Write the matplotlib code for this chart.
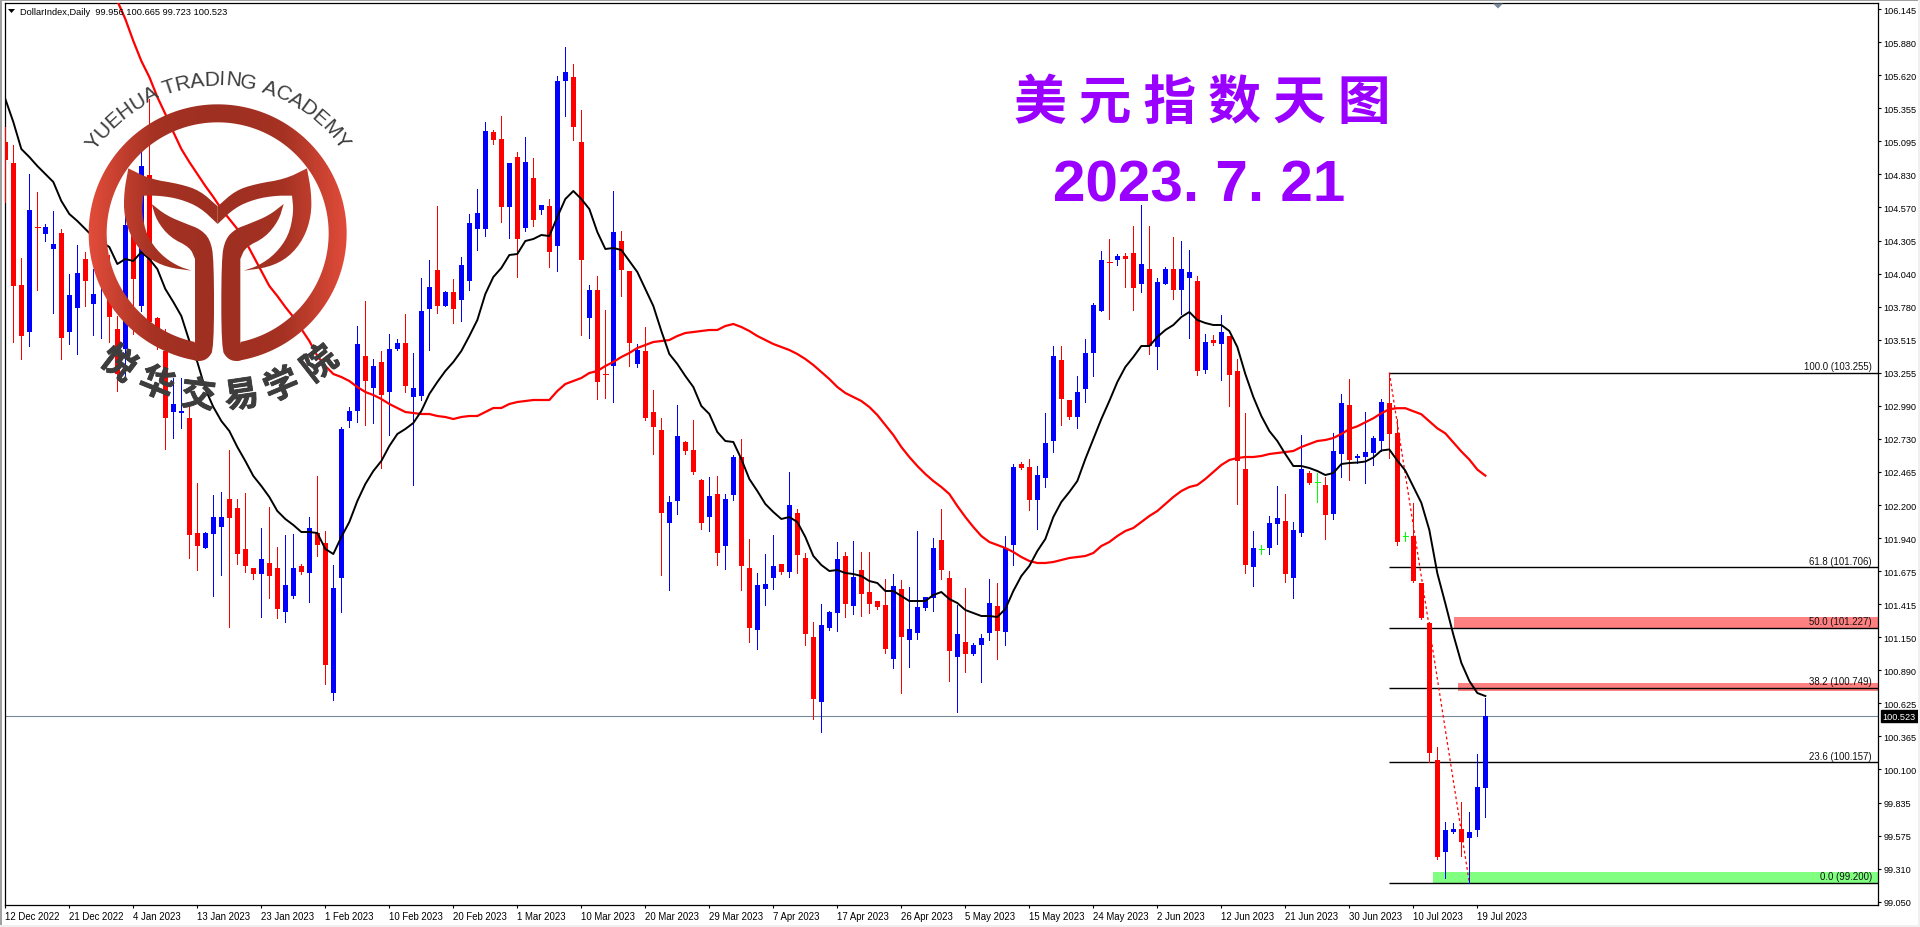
import numpy as np
import matplotlib
matplotlib.use("Agg")
import matplotlib.pyplot as plt
from matplotlib.patches import Polygon, Rectangle
import matplotlib.patheffects as pe

# ---------- data: daily candles, in index points ----------
kind = list("RRRBRBBRBB" "RBBRRBRBRR" "RBBRRBBBRR" "RRBRRBBRBR" "RBBBBRBRBB" "RBBBRBRBBB" "BRRBRBRBRB" "BRRBRRBRRB"
            "RRRBBRRRBR" "BBRRBBBRBR" "RRBBBRBRRR" "RBRBBBBRRB" "RBBBRBBRRB" "BBRRBBBBRB" "RRBRBBRBBR" "BRBRRRBGBB"
            "RBBRGRBBRB" "BBBRRGRRRR" "BBRBBB")

body_top = [105.100,104.932,103.956,104.556,104.420,104.420,104.284,104.372,103.876,104.052,104.164,103.884,104.204,103.844,103.604,104.436,104.348,104.908,104.836,103.692,
103.428,103.004,102.948,102.892,101.972,101.972,102.100,102.100,102.244,102.172,101.844,101.692,101.764,101.732,101.692,101.556,101.692,101.708,102.012,101.972,
101.892,101.532,102.804,102.948,103.484,103.388,103.308,103.340,103.444,103.492,103.492,103.132,103.748,103.940,104.076,103.900,103.900,104.116,104.452,104.532,
105.188,105.180,105.124,104.932,104.980,104.940,104.812,104.596,104.588,105.588,105.660,105.620,105.100,103.916,103.916,103.244,104.380,104.308,104.068,103.436,
103.428,102.940,102.796,102.220,102.748,102.700,102.636,102.396,102.268,102.284,102.244,102.580,102.580,101.692,101.556,101.564,101.708,101.724,102.196,102.132,
101.772,101.140,101.236,101.340,101.764,101.788,101.620,101.676,101.500,101.428,101.396,101.548,101.524,101.204,101.380,101.460,101.852,101.916,101.612,101.164,
101.100,101.076,101.132,101.412,101.388,101.852,102.500,102.524,102.500,102.436,102.692,103.388,103.356,103.036,103.100,103.412,103.796,104.156,104.140,104.188,
104.188,104.212,104.124,104.084,103.980,104.084,104.084,104.084,104.060,103.988,103.500,103.516,103.580,103.548,103.268,102.484,101.852,101.844,102.052,102.092,
102.068,101.996,102.484,102.452,102.380,102.356,102.628,103.012,102.996,102.596,102.620,102.732,103.020,103.012,102.772,101.956,101.956,101.580,101.268,100.172,
99.620,99.628,99.628,99.604,99.964,100.523]

body_bottom = [104.956,103.948,103.548,103.580,104.420,104.364,104.244,103.532,103.580,103.772,103.988,103.804,104.084,103.700,103.244,103.444,104.004,103.788,103.660,103.484,
102.892,102.940,102.932,101.956,101.868,101.852,101.964,102.020,102.092,101.804,101.708,101.644,101.644,101.628,101.364,101.340,101.468,101.660,101.652,101.876,
100.916,100.692,101.612,102.868,102.948,103.188,103.132,103.076,103.100,103.444,103.148,103.060,103.068,103.764,103.788,103.788,103.764,103.836,103.988,104.404,
104.404,105.116,104.580,104.580,104.324,104.412,104.476,104.556,104.220,104.268,105.588,105.220,104.156,103.692,103.180,103.244,103.308,104.076,103.492,103.324,
102.892,102.820,102.132,102.052,102.228,102.628,102.460,102.052,102.100,101.812,101.868,102.276,101.708,101.212,101.196,101.524,101.612,101.660,101.660,101.796,
101.164,100.644,100.620,101.212,101.332,101.404,101.388,101.484,101.404,101.380,101.044,100.964,101.140,101.116,101.172,101.372,101.452,101.676,101.028,100.980,
101.004,101.004,101.076,101.172,101.188,101.180,101.876,102.492,102.236,102.236,102.412,102.708,103.044,102.900,102.900,103.124,103.412,103.748,104.140,104.156,
104.164,103.932,103.964,103.468,103.460,103.964,103.916,103.916,104.012,103.268,103.276,103.492,103.484,103.236,102.548,101.716,101.700,101.844,101.852,102.044,
101.644,101.612,101.972,102.372,102.380,102.116,102.124,102.604,102.556,102.580,102.588,102.612,102.708,102.764,101.908,101.956,101.596,101.308,100.228,99.404,
99.444,99.604,99.524,99.556,99.620,99.956]

high = [105.220,105.076,104.172,104.844,104.700,104.444,104.548,104.404,104.044,104.276,104.220,104.084,104.324,104.196,103.708,104.564,104.444,105.020,105.444,103.700,
103.604,103.212,103.212,103.004,102.372,101.980,102.276,102.300,102.636,102.244,102.292,101.692,102.012,102.180,101.860,101.956,101.964,101.724,102.100,102.428,
101.988,101.716,102.820,102.980,103.628,103.828,103.364,103.428,103.564,103.524,103.724,103.412,104.012,104.156,104.588,103.908,104.004,104.180,104.524,104.724,
105.260,105.196,105.308,104.932,105.020,105.140,104.972,104.596,104.644,105.628,105.860,105.724,105.356,103.956,104.028,103.756,104.708,104.388,104.068,103.484,
103.620,103.116,102.892,102.268,102.996,102.708,102.876,102.404,102.420,102.428,102.284,102.596,102.724,101.924,101.652,101.804,101.956,101.724,102.460,102.164,
101.812,101.260,101.404,101.348,101.900,101.820,101.908,101.820,101.820,101.428,101.604,101.644,101.596,101.540,101.988,101.460,101.932,102.164,101.668,101.396,
101.532,101.092,101.164,101.604,101.572,101.948,102.524,102.540,102.564,102.508,102.932,103.468,103.468,103.036,103.228,103.524,103.812,104.228,104.324,104.204,
104.212,104.428,104.596,104.428,104.012,104.100,104.340,104.308,104.236,104.028,103.564,103.556,103.716,103.548,103.364,102.932,101.988,101.876,102.108,102.348,
102.284,102.060,102.756,102.468,102.452,102.420,102.772,103.084,103.204,102.604,102.940,102.748,103.044,103.255,102.884,101.988,102.220,101.580,101.276,100.276,
99.684,99.676,99.844,99.764,100.220,100.665]

low = [104.620,103.500,103.364,103.468,103.916,104.308,103.732,103.364,103.484,103.404,103.788,103.556,103.532,103.500,103.108,103.212,103.564,103.748,103.564,103.444,
102.644,102.732,102.812,101.772,101.676,101.852,101.468,101.636,101.220,101.724,101.660,101.604,101.300,101.452,101.292,101.260,101.452,101.644,101.420,101.788,
100.764,100.636,101.340,102.820,102.860,102.836,102.852,102.492,102.756,103.436,103.100,102.356,103.036,103.436,103.732,103.788,103.652,103.668,103.916,104.236,
104.348,105.084,104.460,104.332,104.020,104.388,104.428,104.524,104.100,104.068,105.308,105.116,103.556,103.532,103.044,103.052,103.020,103.868,103.308,103.300,
102.876,102.604,101.636,101.516,102.124,102.604,102.444,102.004,101.988,101.716,101.684,102.236,101.516,101.100,101.044,101.396,101.524,101.644,101.620,101.652,
101.076,100.484,100.380,101.196,101.188,101.300,101.324,101.308,101.332,101.364,101.012,100.892,100.692,100.900,101.124,101.356,101.348,101.604,100.788,100.540,
100.860,100.996,100.780,101.116,100.964,101.076,101.716,102.484,102.156,102.004,102.340,102.620,102.836,102.884,102.812,103.020,103.228,103.748,103.684,104.116,
103.940,103.756,103.900,103.404,103.284,103.964,103.844,103.724,103.532,103.236,103.252,103.476,103.196,102.988,102.204,101.652,101.548,101.804,101.804,101.884,
101.580,101.452,101.948,102.364,102.220,101.924,102.084,102.420,102.396,102.540,102.380,102.524,102.628,102.580,101.884,101.916,101.588,101.300,100.156,99.388,
99.236,99.596,99.412,99.200,99.572,99.723]

ma_black = [105.444,105.26,105.044,104.98,104.908,104.844,104.78,104.628,104.524,104.468,104.404,104.34,104.3,104.26,104.124,104.164,104.148,104.22,104.164,104.084,
103.924,103.82,103.708,103.508,103.34,103.124,102.98,102.868,102.788,102.66,102.548,102.428,102.348,102.26,102.148,102.084,102.036,101.98,101.98,101.972,
101.844,101.804,101.94,102.06,102.228,102.364,102.468,102.548,102.668,102.764,102.804,102.852,102.948,103.084,103.18,103.268,103.34,103.428,103.548,103.676,
103.884,104.02,104.092,104.196,104.204,104.308,104.324,104.356,104.348,104.5,104.644,104.708,104.644,104.564,104.38,104.244,104.252,104.236,104.148,104.06,
103.924,103.788,103.588,103.404,103.324,103.228,103.14,102.988,102.924,102.78,102.708,102.7,102.564,102.404,102.308,102.204,102.14,102.084,102.1,102.06,
101.94,101.788,101.716,101.668,101.676,101.652,101.644,101.628,101.588,101.572,101.508,101.508,101.468,101.428,101.428,101.428,101.476,101.5,101.444,101.412,
101.356,101.332,101.308,101.308,101.3,101.364,101.508,101.628,101.708,101.828,101.924,102.1,102.22,102.3,102.388,102.564,102.724,102.884,103.028,103.18,
103.3,103.38,103.468,103.468,103.54,103.596,103.636,103.7,103.74,103.676,103.652,103.636,103.636,103.588,103.46,103.244,103.06,102.908,102.788,102.708,
102.604,102.508,102.508,102.492,102.468,102.436,102.452,102.524,102.532,102.54,102.548,102.58,102.636,102.644,102.556,102.476,102.348,102.22,102.004,101.66,
101.42,101.172,100.948,100.804,100.708,100.684]

ma_red_first_bar = 13
ma_red = [106.388,106.228,106.084,105.908,105.748,105.62,105.46,105.324,105.18,105.044,104.94,104.844,104.748,104.66,104.564,104.484,104.404,104.308,104.188,104.068,
103.948,103.868,103.78,103.7,103.604,103.508,103.388,103.308,103.244,103.22,103.188,103.14,103.1,103.076,103.044,103.004,102.972,102.94,102.932,102.924,
102.924,102.908,102.9,102.884,102.9,102.908,102.908,102.94,102.972,102.972,103.004,103.02,103.028,103.036,103.036,103.036,103.108,103.164,103.188,103.212,
103.252,103.268,103.308,103.34,103.38,103.412,103.452,103.476,103.5,103.508,103.516,103.548,103.572,103.58,103.588,103.596,103.596,103.628,103.644,103.62,
103.588,103.548,103.516,103.484,103.46,103.436,103.404,103.364,103.316,103.26,103.204,103.14,103.092,103.06,103.028,102.98,102.916,102.836,102.756,102.66,
102.58,102.508,102.444,102.388,102.34,102.284,102.188,102.1,102.02,101.948,101.9,101.876,101.852,101.82,101.78,101.748,101.732,101.732,101.74,101.756,
101.772,101.78,101.788,101.812,101.868,101.9,101.948,101.988,102.012,102.06,102.108,102.148,102.204,102.26,102.308,102.34,102.356,102.404,102.46,102.516,
102.556,102.572,102.58,102.58,102.588,102.604,102.612,102.62,102.628,102.66,102.684,102.708,102.716,102.732,102.764,102.804,102.828,102.86,102.892,102.932,
102.964,102.972,102.972,102.948,102.924,102.868,102.812,102.772,102.7,102.628,102.564,102.484,102.436]

fib_levels = [100.0, 61.8, 50.0, 38.2, 23.6, 0.0]
fib_prices = [103.255, 101.706, 101.227, 100.749, 100.157, 99.200]
fib_start_bar = 173
fib_end_bar = 183

zone_bars = [181.1, 181.6, 178.5]
zone_tops = [101.310, 100.784, 99.285]
zone_bottoms = [101.227, 100.727, 99.200]
zone_colors = ["#ff8080", "#ff8080", "#80ff80"]

last_price = 100.523
price_ticks = ["106.145","105.880","105.620","105.355","105.095","104.830","104.570","104.305","104.040",
               "103.780","103.515","103.255","102.990","102.730","102.465","102.200","101.940","101.675",
               "101.415","101.150","100.890","100.625","100.365","100.100","99.835","99.575","99.310","99.050"]
date_labels = ["12 Dec 2022","21 Dec 2022","4 Jan 2023","13 Jan 2023","23 Jan 2023","1 Feb 2023","10 Feb 2023",
               "20 Feb 2023","1 Mar 2023","10 Mar 2023","20 Mar 2023","29 Mar 2023","7 Apr 2023","17 Apr 2023",
               "26 Apr 2023","5 May 2023","15 May 2023","24 May 2023","2 Jun 2023","12 Jun 2023","21 Jun 2023",
               "30 Jun 2023","10 Jul 2023","19 Jul 2023"]

n = len(body_top)

# bars before this one were read against a slightly coarser price ruler; bring them onto the axis scale
RULER_END_BAR = 169
def on_axis(v, first_bar=0):
    return [x - 0.00636 * (x - 103.22) if first_bar + i < RULER_END_BAR else x for i, x in enumerate(v)]

body_top, body_bottom, high, low = map(on_axis, (body_top, body_bottom, high, low))
ma_black = on_axis(ma_black)
ma_red = on_axis(ma_red, ma_red_first_bar)

# ---------- figure ----------
W, H = 1920, 928
FONT = "Liberation Sans"
plt.rcParams["font.family"] = [FONT, "DejaVu Sans"]
fig = plt.figure(figsize=(W / 100, H / 100), dpi=100, facecolor="white")
L, R, T, B = 5, 1878, 4, 906
ax = fig.add_axes([L / W, 1 - B / H, (R - L) / W, (B - T) / H])
PX_PER_BAR = 8.0
X0 = 5.33
PX_PER_PT = 125.8
Y_103 = 373.6
ax.set_xlim((L - X0) / PX_PER_BAR, (R - X0) / PX_PER_BAR)
ax.set_ylim(103.255 - (B - Y_103) / PX_PER_PT, 103.255 + (Y_103 - T) / PX_PER_PT)

colmap = {"R": "#ff0000", "B": "#0000ff", "G": "#00ff00"}

# zones
for b0, t, bt, c in zip(zone_bars, zone_tops, zone_bottoms, zone_colors):
    ax.fill_between([b0, ax.get_xlim()[1] + 0.1], [bt, bt], [t, t], color=c, lw=0, zorder=1, clip_on=False)

# fib lines and dotted trend
for lv, p in zip(fib_levels, fib_prices):
    ax.plot([fib_start_bar, ax.get_xlim()[1]], [p, p], color="black", lw=1.0, zorder=2, solid_capstyle="butt")
    ax.text((1872 - L) / (R - L), p + 0.012, f"{lv:.1f} ({p:.3f})", transform=ax.get_yaxis_transform(),
            ha="right", va="bottom", fontsize=6.9, color="#111111", zorder=6)
ax.plot([fib_start_bar, fib_end_bar], [fib_prices[0], fib_prices[-1]], color="#ff0000", lw=0.9,
        ls=(0, (2.2, 2.2)), zorder=3)

# current price
ax.axhline(last_price, color="#778899", lw=0.8, zorder=2)

# candles
idx = np.arange(n)
for c in "RBG":
    m = [i for i in range(n) if kind[i] == c]
    ax.vlines(m, [low[i] for i in m], [high[i] for i in m], color=colmap[c], lw=0.72, antialiased=False, zorder=4)
    solid = [i for i in m if body_top[i] - body_bottom[i] > 0.004]
    flat = [i for i in m if i not in solid]
    ax.bar(solid, [body_top[i] - body_bottom[i] for i in solid], bottom=[body_bottom[i] for i in solid],
           width=5 / PX_PER_BAR, color=colmap[c], lw=0, antialiased=False, zorder=4)
    if flat:
        ax.hlines([body_top[i] for i in flat], [i - 2.5 / PX_PER_BAR for i in flat],
                  [i + 2.5 / PX_PER_BAR for i in flat], color=colmap[c], lw=0.72, antialiased=False, zorder=4)

# moving averages
ax.plot(np.arange(ma_red_first_bar, ma_red_first_bar + len(ma_red)), ma_red, color="#ff0000", lw=1.6, zorder=5)
ax.plot(idx[:len(ma_black)], ma_black, color="black", lw=1.4, zorder=5)

# axes furniture
for s in ax.spines.values():
    s.set_linewidth(0.9)
    s.set_color("black")
ax.yaxis.tick_right()
ax.set_yticks([float(v) for v in price_ticks])
ax.set_yticklabels(price_ticks, fontsize=6.6, color="black")
ax.tick_params(axis="y", direction="out", length=2.4, width=0.8, pad=1.4)
ax.set_xticks(np.arange(len(date_labels)) * 8)
ax.set_xticklabels(date_labels, fontsize=6.9, ha="left", color="black")
ax.tick_params(axis="x", direction="out", length=2.4, width=0.8, pad=1.6)

ax.text(1 + 4.8 / (R - L), last_price, f"{last_price:.3f}", transform=ax.get_yaxis_transform(), color="white",
        fontsize=6.6, ha="left", va="center", zorder=8, clip_on=False,
        bbox=dict(facecolor="black", edgecolor="black", pad=1.2))

# ---------- overlay in pixel coordinates: window, header, titles, watermark ----------
ov = fig.add_axes([0, 0, 1, 1], facecolor="none", zorder=10)
ov.set_axis_off()

for (x, y, w, h, c) in [(0, 0, W, 2, "#a0a0a0"), (0, 0, 2, H, "#a0a0a0"), (0, 926, W, 2, "#f0f0f0"), (1918, 0, 2, H, "#f0f0f0")]:
    ov.add_patch(Rectangle((x, y), w, h, color=c, lw=0))

ov.add_patch(Polygon([(8, 10), (15, 10), (11.5, 14)], color="black", lw=0))
ov.add_patch(Polygon([(1493, 4.5), (1503, 4.5), (1498, 9.5)], color="#778899", lw=0))
ov.text(20, 12.5, "DollarIndex,Daily  99.956 100.665 99.723 100.523", fontsize=6.7, va="center", ha="left", color="black")

PURPLE = "#9900ff"
ov.text(1202, 103, "美 元 指 数 天 图", fontsize=38, fontweight="bold", color=PURPLE, ha="center", va="center",
        family=["Noto Sans CJK SC", "DejaVu Sans"])
ov.text(1199, 186, "2023. 7. 21", fontsize=42, fontweight="bold", color=PURPLE, ha="center", va="center", family=FONT)

# logo, coordinates on a 3x grid around its centre
def chaikin(pts, rounds=2, sharp=()):
    pts = [q for k, q in enumerate(pts) for _ in range(3 if k in sharp else 1)]
    p = np.asarray(pts, float)
    for _ in range(rounds):
        q = np.roll(p, -1, axis=0)
        p = np.column_stack([0.75 * p + 0.25 * q, 0.25 * p + 0.75 * q]).reshape(-1, 2)
    return p

CX, CY, MIRROR = 653, 703, 1306
wing = [(385, 508), (450, 540), (540, 555), (600, 575), (653, 622), (653, 675), (600, 625), (540, 600), (480, 590),
        (430, 590), (425, 640), (440, 710), (480, 765), (530, 800), (575, 815), (500, 805), (440, 775), (395, 720),
        (372, 650), (372, 580)]
stem = [(455, 615), (500, 650), (560, 675), (600, 690), (630, 720), (642, 780), (642, 1050), (625, 1078), (600, 1088),
        (570, 1080), (585, 1030), (585, 780), (570, 745), (510, 715), (470, 665)]
th = np.radians(np.linspace(8, 352, 240))
outer = np.column_stack([CX - 387 * np.sin(th), CY + 387 * np.cos(th)])
th2 = np.radians(np.linspace(352 - 4, 8 + 4, 240))
inner = np.column_stack([CX - 333 * np.sin(th2), CY + 333 * np.cos(th2)])
ring = np.vstack([outer, inner])

def mirrored(p):
    p = np.asarray(p, float).copy()
    p[:, 0] = MIRROR - p[:, 0]
    return p

wing_s = chaikin(wing, sharp=(0, 4, 5, 9, 14))
stem_s = chaikin(stem, sharp=(0, 10, 11))
shapes = [ring, wing_s, mirrored(wing_s), stem_s, mirrored(stem_s)]
xs = np.arange(260, 1050)
t = np.abs(xs - CX) / 387
cols = np.array([np.interp(t, [0, 0.5, 1], s) for s in ((158, 165, 226), (47, 50, 76), (33, 35, 58))]).T / 255
grad = cols[np.newaxis, :, :]
for s in shapes:
    im = ov.imshow(grad, extent=(260 / 3, 1050 / 3, 1100 / 3, 300 / 3), aspect="auto", zorder=7, interpolation="bilinear")
    pat = Polygon(s / 3, closed=True, transform=ov.transData, fc="none", ec="none")
    ov.add_patch(pat)
    im.set_clip_path(pat)

# curved logo captions
GREY = "#3d3d3d"
cap = "YUEHUA TRADING ACADEMY"
adv = {"Y": .667, "U": .722, "E": .667, "H": .722, "A": .667, " ": .278, "T": .611, "R": .722, "D": .722, "I": .278,
       "N": .722, "G": .778, "C": .722, "M": .833}
cap_size_px = 21.2
cap_r = 463 / 3
total = sum(adv[c] for c in cap) * cap_size_px
pos = -total / 2
for c in cap:
    a = (pos + adv[c] * cap_size_px / 2) / cap_r
    ov.text(CX / 3 + cap_r * np.sin(a), CY / 3 - cap_r * np.cos(a), c, fontsize=cap_size_px * .72, color=GREY,
            rotation=-np.degrees(a), rotation_mode="anchor", ha="center", va="center", family=FONT, zorder=8)
    pos += adv[c] * cap_size_px

for ch, dx, dy in zip("悦华交易学院", [-298, -183, -58, 72, 192, 307], [392, 452, 487, 487, 457, 392]):
    ang = np.degrees(np.arctan2(dx, dy))
    ov.text((CX + dx) / 3, (CY + dy) / 3, ch, fontsize=25, fontweight="bold", color=GREY, rotation=ang,
            rotation_mode="anchor", ha="center", va="center", family=["Noto Sans CJK SC", "DejaVu Sans"], zorder=8,
            path_effects=[pe.withStroke(linewidth=0.6, foreground=GREY)])

ov.set_xlim(0, W)
ov.set_ylim(H, 0)

fig.savefig("out.png", dpi=100, facecolor="white")
